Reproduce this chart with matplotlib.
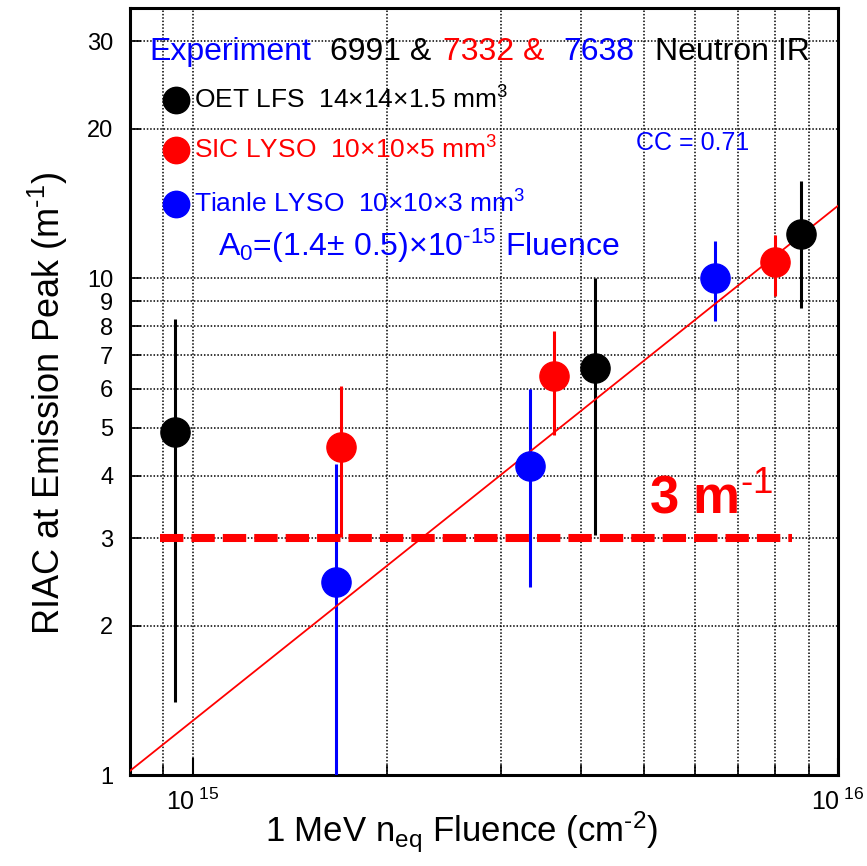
import matplotlib
matplotlib.use('Agg')
import matplotlib.pyplot as plt
from matplotlib.ticker import FixedLocator, NullFormatter

plt.rcParams['font.family'] = ['Liberation Sans', 'DejaVu Sans']
plt.rcParams['mathtext.fontset'] = 'custom'
plt.rcParams['mathtext.rm'] = 'Liberation Sans'
plt.rcParams['mathtext.it'] = 'Liberation Sans:italic'
plt.rcParams['mathtext.bf'] = 'Liberation Sans:bold'

# OET LFS 14x14x1.5
oet_x = [9.4e14, 4.2e15, 8.76e15]
oet_y = [4.9, 6.6, 12.3]
oet_lo = [1.4, 3.04, 8.7]
oet_hi = [8.3, 10.0, 15.7]

# SIC LYSO 10x10x5
sic_x = [1.70e15, 3.63e15, 7.99e15]
sic_y = [4.57, 6.35, 10.8]
sic_lo = [3.01, 4.83, 9.2]
sic_hi = [6.06, 7.82, 12.2]

# Tianle LYSO 10x10x3
tianle_x = [1.67e15, 3.33e15, 6.45e15]
tianle_y = [2.45, 4.19, 10.0]
tianle_lo = [0.9, 2.39, 8.19]
tianle_hi = [4.22, 5.98, 11.9]

# fit line and 3 m^-1 limit
fit_x = [8e14, 1e16]
fit_y = [1.02, 14.0]
limit_x = [8.9e14, 8.5e15]
limit_y = [3, 3]

y_ticks = [1, 2, 3, 4, 5, 6, 7, 8, 9, 10, 20, 30]
x_major = [1e15, 1e16]
x_minor = [9e14, 2e15, 3e15, 4e15, 5e15, 6e15, 7e15, 8e15, 9e15]
x_labels = [r'$\mathregular{10^{\ 15}}$', r'$\mathregular{10^{\ 16}}$']

BLUE = '#0000ff'
RED = '#ff0000'

fig = plt.figure(figsize=(8.67, 8.66), dpi=100)
ax = fig.add_axes([0.150, 0.105, 0.8166, 0.8857])
ax.set_xscale('log')
ax.set_yscale('log')
ax.set_xlim(8e14, 1e16)
ax.set_ylim(1, 35)

series = [
    (oet_x, oet_y, oet_lo, oet_hi, 'black'),
    (sic_x, sic_y, sic_lo, sic_hi, RED),
    (tianle_x, tianle_y, tianle_lo, tianle_hi, BLUE),
]
for xs, ys, lo, hi, c in series:
    ax.vlines(xs, lo, hi, color=c, lw=2.2, zorder=3)

ax.plot(fit_x, fit_y, color=RED, lw=1.3, zorder=4)

for xs, ys, lo, hi, c in series:
    ax.plot(xs, ys, ls='none', marker='o', ms=21, color=c, zorder=5)

ax.plot(limit_x, limit_y, color=RED, lw=5.8, ls=(0, (2.9, 1.0)), zorder=6)

# axes styling
ax.yaxis.set_major_locator(FixedLocator(y_ticks))
ax.yaxis.set_minor_locator(FixedLocator([]))
ax.set_yticklabels([str(v) for v in y_ticks])
ax.xaxis.set_major_locator(FixedLocator(x_major))
ax.xaxis.set_minor_locator(FixedLocator(x_minor))
ax.set_xticklabels(x_labels)
ax.xaxis.set_minor_formatter(NullFormatter())
ax.tick_params(axis='both', which='both', direction='in', labelsize=17)
ax.tick_params(axis='x', which='major', length=12, width=1.5, pad=10, labelsize=18)
ax.tick_params(axis='x', which='minor', length=7, width=1.2)
ax.tick_params(axis='y', length=8, width=1.2, pad=12)
ax.grid(True, which='both', color='black', lw=1.1, ls=(0, (1, 1.2)))
for s in ax.spines.values():
    s.set_linewidth(2.2)

ax.set_xlabel(r'1 MeV n$_{\mathregular{eq}}$ Fluence (cm$^{\text{-2}}$)', fontsize=25)
ax.xaxis.set_label_coords(0.468, -0.075, transform=ax.transAxes)
ax.xaxis.label.set_va('center')
ax.set_ylabel(r'RIAC at Emission Peak (m$^{\text{-1}}$)', fontsize=26)
ax.yaxis.set_label_coords(-0.085, 0.485)

# header line
tr = ax.transAxes
ty = 0.943
ax.text(0.028, ty, 'Experiment', color=BLUE, fontsize=23, va='center', transform=tr)
ax.text(0.282, ty, '6991 &', color='black', fontsize=23, va='center', transform=tr)
ax.text(0.442, ty, '7332 &', color=RED, fontsize=23, va='center', transform=tr)
ax.text(0.612, ty, '7638', color=BLUE, fontsize=23, va='center', transform=tr)
ax.text(0.742, ty, 'Neutron IR', color='black', fontsize=23, va='center', transform=tr)

# legend
leg = [
    ('OET LFS  14×14×1.5 mm$^{\\mathregular{3}}$', 'black', 0.880),
    ('SIC LYSO  10×10×5 mm$^{\\mathregular{3}}$', RED, 0.815),
    ('Tianle LYSO  10×10×3 mm$^{\\mathregular{3}}$', BLUE, 0.745),
]
for label, c, yy in leg:
    ax.plot([0.065], [yy], marker='o', ms=19, color=c, transform=tr, clip_on=False, zorder=7)
    ax.text(0.090, yy, label, color=c, fontsize=19, va='center', transform=tr)

ax.text(0.715, 0.824, 'CC = 0.71', color=BLUE, fontsize=18, va='center', transform=tr)
ax.text(0.124, 0.690, r'A$_{\mathregular{0}}$=(1.4± 0.5)×10$^{\text{-15}}$ Fluence',
        color=BLUE, fontsize=23, va='center', transform=tr)

ax.text(0.733, 0.341, r'3 m$^{\text{-1}}$', color=RED, fontsize=38, fontweight='bold',
        va='baseline', transform=tr, zorder=8)

fig.savefig('out.png', dpi=100)
